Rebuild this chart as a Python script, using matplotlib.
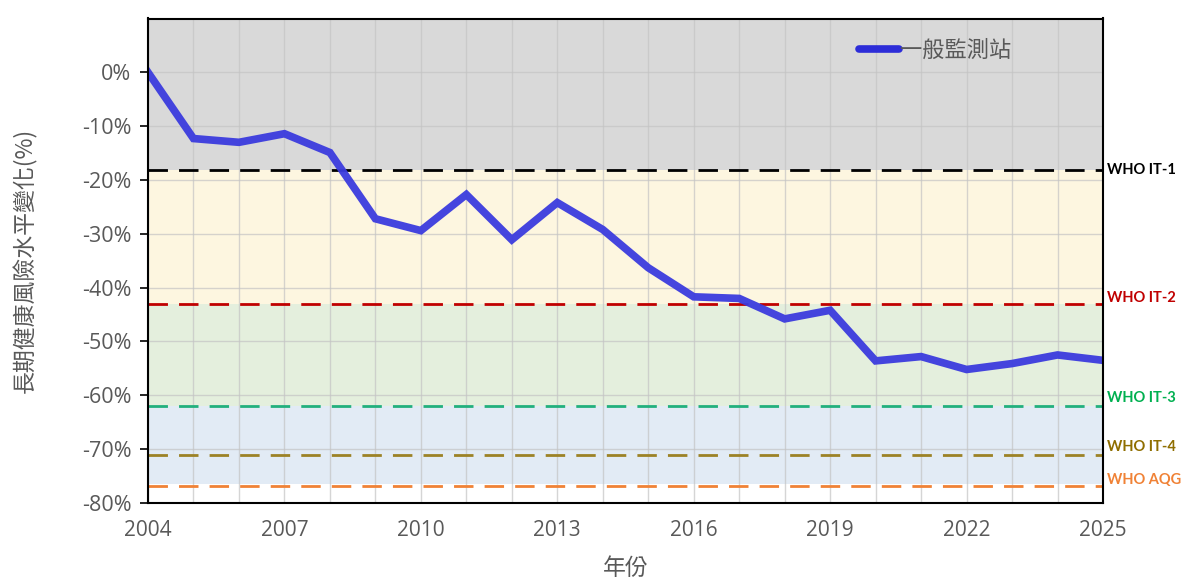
import matplotlib
matplotlib.use("Agg")
import matplotlib.pyplot as plt
from matplotlib.ticker import FuncFormatter, MultipleLocator, FixedLocator

plt.rcParams['font.family'] = ['Open Sans', 'Noto Sans CJK TC', 'DejaVu Sans']

years = list(range(2004, 2026))
general_station = [0.0, -12.3, -13.0, -11.4, -14.9, -27.2, -29.4, -22.7, -31.1, -24.2, -29.2,
                   -36.3, -41.7, -42.0, -45.8, -44.2, -53.6, -52.8, -55.2, -54.1, -52.5, -53.5]
series_label = "一般監測站"
y_ticks = [0, -10, -20, -30, -40, -50, -60, -70, -80]

who_names = ["WHO IT-1", "WHO IT-2", "WHO IT-3", "WHO IT-4", "WHO AQG"]
who_levels = [-18.2, -43.0, -62.0, -71.1, -76.8]
who_colors = ["#000000", "#c00000", "#22b07d", "#9c8226", "#f08236"]
label_colors = ["#000000", "#c00000", "#00b050", "#8f6e00", "#f08236"]
label_dy = [0, 4, 6, 6, 4]

band_colors = ["#d9d9d9", "#fdf6e0", "#e4efdd", "#e2ebf5"]
band_edges = [10, -18.2, -43.0, -62.0, -76.5]

fig = plt.figure(figsize=(11.85, 5.84), dpi=100)
ax = fig.add_axes([148/1185, 1 - 503/584, (1103-148)/1185, (503-18.5)/584])

ax.set_xlim(2004, 2025)
ax.set_ylim(-80, 10)

for i, c in enumerate(band_colors):
    ax.axhspan(band_edges[i+1], band_edges[i], color=c, zorder=0, lw=0)

ax.xaxis.set_major_locator(MultipleLocator(3))
ax.xaxis.set_minor_locator(MultipleLocator(1))
ax.yaxis.set_major_locator(FixedLocator(y_ticks))
ax.grid(which='both', axis='x', color='#c4c4c4', lw=1.0, alpha=0.7, zorder=1)
ax.grid(which='major', axis='y', color='#c4c4c4', lw=1.0, alpha=0.7, zorder=1)
ax.set_axisbelow(False)

for lvl, col in zip(who_levels, who_colors):
    ax.axhline(lvl, color=col, lw=2.0, dashes=(7, 4), zorder=3)

ax.plot(years, general_station, color='#3b3bde', lw=5.5, solid_joinstyle='miter',
        label=series_label, zorder=4, alpha=0.95)

for name, lvl, col, dy in zip(who_names, who_levels, label_colors, label_dy):
    ax.annotate(name, xy=(1.0, lvl), xycoords=('axes fraction', 'data'),
                xytext=(3, dy), textcoords='offset points', ha='left', va='center',
                fontsize=10.5, fontweight='bold', color=col, annotation_clip=False,
                family=['Lato', 'DejaVu Sans'])

ax.yaxis.set_major_formatter(FuncFormatter(lambda v, p: f"{int(round(v))}%"))
ax.tick_params(axis='y', which='major', length=6, width=1.2, color='black',
               labelsize=15.5, labelcolor='#595959', pad=6)
ax.tick_params(axis='x', which='both', length=0, labelsize=15, labelcolor='#595959', pad=12)

for s in ax.spines.values():
    s.set_color('black')
    s.set_linewidth(1.5)
    s.set_zorder(5)

ax.set_ylabel("長期健康風險水平變化(%)", fontsize=16.5, color='#595959', labelpad=32,
              family=['Noto Sans CJK TC', 'DejaVu Sans'])
ax.set_xlabel("年份", fontsize=16.5, color='#595959', labelpad=12,
              family=['Noto Sans CJK TC', 'DejaVu Sans'])

leg = ax.legend(loc='upper right', bbox_to_anchor=(0.925, 1.0), frameon=False,
                prop={'family': ['Noto Sans CJK TC'], 'size': 16},
                handlelength=1.8, handletextpad=0.05)
for t in leg.get_texts():
    t.set_color('#595959')
for h in leg.get_lines():
    h.set_solid_capstyle('round')
    h.set_color('#2424d8')

fig.savefig("out.png", dpi=100)
